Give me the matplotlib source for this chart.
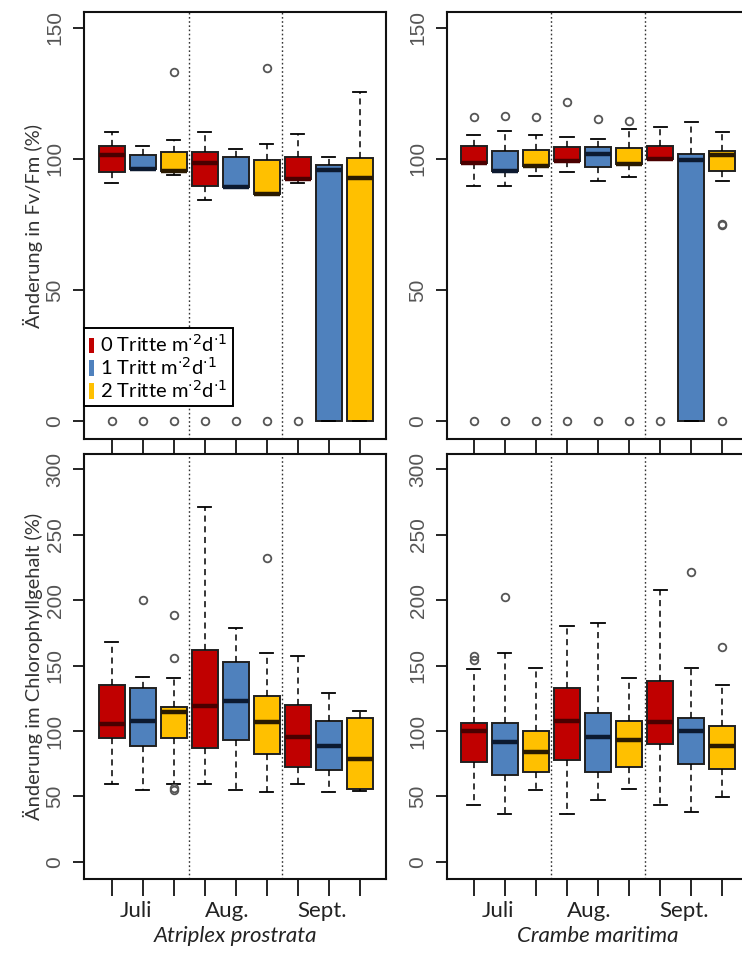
import matplotlib
matplotlib.use("Agg")
import matplotlib.pyplot as plt
from matplotlib.patches import Patch

plt.rcParams['font.family'] = ['Lato', 'DejaVu Sans']

# group colours: 0, 1, 2 Tritte
colors = ["#C00000", "#4F81BD", "#FFC000"]
med_colors = ["#4a0000", "#0c1a30", "#2a1a00"]
months = ["Juli", "Aug.", "Sept."]
species = ["Atriplex prostrata", "Crambe maritima"]
legend_labels = [r"0 Tritte m$^{\cdot 2}$d$^{\cdot 1}$",
                 r"1 Tritt m$^{\cdot 2}$d$^{\cdot 1}$",
                 r"2 Tritte m$^{\cdot 2}$d$^{\cdot 1}$"]

# Fv/Fm, Atriplex prostrata (9 boxes: Juli 0/1/2, Aug 0/1/2, Sept 0/1/2)
fv_atr_whislo = [90.6, 96.0, 93.9, 84.4, 89.4, 86.6, 90.6, 0, 0]
fv_atr_q1 = [94.8, 96.0, 95.5, 89.8, 89.4, 86.6, 92.2, 0, 0]
fv_atr_med = [101.4, 96.0, 95.5, 98.3, 89.4, 86.6, 92.2, 95.8, 92.5]
fv_atr_q3 = [104.7, 101.4, 102.5, 102.7, 100.8, 99.4, 100.8, 97.5, 100.4]
fv_atr_whishi = [110.2, 105.0, 107.0, 110.2, 103.8, 105.6, 109.5, 100.8, 125.4]
fv_atr_fliers = [[0], [0], [0, 133], [0], [0], [0, 134.6], [0], [], []]

# Fv/Fm, Crambe maritima
fv_cra_whislo = [89.7, 89.7, 93.5, 95.1, 91.6, 92.9, 99.8, 0, 91.6]
fv_cra_q1 = [98.5, 95.3, 97.3, 99.1, 96.7, 98.0, 99.8, 0, 95.5]
fv_cra_med = [98.5, 95.3, 97.3, 99.1, 101.8, 98.0, 99.8, 99.4, 101.3]
fv_cra_q3 = [105.0, 103.0, 103.5, 104.4, 104.4, 104.2, 105.0, 101.8, 102.9]
fv_cra_whishi = [108.9, 110.7, 108.9, 108.2, 107.5, 111.4, 112.0, 113.9, 110.2]
fv_cra_fliers = [[0, 116], [0, 116.5], [0, 116], [0, 121.5], [0, 115.2],
                 [0, 114.5], [0], [], [0, 74.7, 75.3]]

# Chlorophyll, Atriplex prostrata
ch_atr_whislo = [59.8, 55.2, 59.8, 59.8, 55.2, 53.4, 59.8, 53.4, 54.4]
ch_atr_q1 = [94.8, 88.7, 94.8, 87.0, 93.3, 82.4, 72.2, 69.9, 55.9]
ch_atr_med = [105.3, 107.8, 114.2, 119.2, 123.0, 106.5, 95.3, 88.7, 78.6]
ch_atr_q3 = [135.3, 132.7, 118.7, 162.0, 153.0, 126.4, 120.0, 107.3, 110.3]
ch_atr_whishi = [168.3, 141.6, 140.3, 270.8, 178.5, 159.4, 156.9, 128.9, 114.9]
ch_atr_fliers = [[], [200], [188.7, 155.6, 56.5, 55.2], [], [], [232.4], [], [], []]

# Chlorophyll, Crambe maritima
ch_cra_whislo = [43.2, 36.6, 55.2, 36.6, 47.0, 55.7, 43.2, 37.9, 49.3]
ch_cra_q1 = [76.0, 66.1, 68.6, 78.1, 68.6, 72.5, 90.0, 74.8, 70.9]
ch_cra_med = [100.2, 91.3, 83.7, 107.8, 95.3, 92.8, 106.5, 100.2, 88.7]
ch_cra_q3 = [106.0, 106.0, 99.7, 132.7, 113.7, 107.3, 137.8, 110.3, 104.0]
ch_cra_whishi = [147.2, 159.4, 148.0, 179.8, 182.3, 140.3, 207.7, 148.0, 135.3]
ch_cra_fliers = [[156.9, 154.3], [202.1], [], [], [], [], [], [221.7], [164.5]]

W, H = 742, 955
fig = plt.figure(figsize=(W / 100, H / 100), dpi=100)


def px_axes(left, right, top, bottom):
    return fig.add_axes([left / W, 1 - bottom / H, (right - left) / W, (bottom - top) / H])


def draw_panel(ax, whislo, q1, med, q3, whishi, fliers, ylim, yticks, xlim):
    stats = []
    for i in range(len(med)):
        stats.append(dict(med=med[i], q1=q1[i], q3=q3[i], whislo=whislo[i],
                          whishi=whishi[i], fliers=fliers[i]))
    pos = list(range(1, len(med) + 1))
    res = ax.bxp(stats, positions=pos, widths=0.82, patch_artist=True,
                 capwidths=0.42,
                 whiskerprops=dict(color="black", linestyle=(0, (4, 3)), linewidth=1.1),
                 capprops=dict(color="black", linewidth=1.3),
                 flierprops=dict(marker="o", markerfacecolor="none",
                                 markeredgecolor="#555555", markersize=5.5,
                                 markeredgewidth=1.3),
                 medianprops=dict(linewidth=3.2, solid_capstyle="butt"),
                 boxprops=dict(linewidth=1.4, edgecolor="#202020"))
    for i, b in enumerate(res["boxes"]):
        b.set_facecolor(colors[i % 3])
    for i, m in enumerate(res["medians"]):
        m.set_color(med_colors[i % 3])
    for xv in (3.5, 6.5):
        ax.axvline(xv, color="#333333", linestyle=(0, (1.2, 1.8)), linewidth=1.0, zorder=0)
    ax.set_xlim(*xlim)
    ax.set_ylim(*ylim)
    ax.set_yticks(yticks)
    ax.set_yticklabels([str(t) for t in yticks], rotation=90, va="center",
                       color="#555555", fontsize=15, family="Liberation Sans")
    ax.set_xticks(pos)
    ax.set_xticklabels([])
    ax.tick_params(axis="y", length=8, width=1.2, pad=6)
    ax.tick_params(axis="x", length=12, width=1.2)
    for s in ax.spines.values():
        s.set_linewidth(1.5)
        s.set_color("#111111")


xl_left = (0.1, 9.84)
xl_right = (0.13, 9.87)

ax1 = px_axes(84, 386, 12, 439)
draw_panel(ax1, fv_atr_whislo, fv_atr_q1, fv_atr_med, fv_atr_q3, fv_atr_whishi,
           fv_atr_fliers, (-6.9, 156), [0, 50, 100, 150], xl_left)
ax2 = px_axes(447, 749, 12, 439)
draw_panel(ax2, fv_cra_whislo, fv_cra_q1, fv_cra_med, fv_cra_q3, fv_cra_whishi,
           fv_cra_fliers, (-6.9, 156), [0, 50, 100, 150], xl_right)
ax3 = px_axes(84, 386, 454, 879)
draw_panel(ax3, ch_atr_whislo, ch_atr_q1, ch_atr_med, ch_atr_q3, ch_atr_whishi,
           ch_atr_fliers, (-13, 311.5), [0, 50, 100, 150, 200, 250, 300], xl_left)
ax4 = px_axes(447, 749, 454, 879)
draw_panel(ax4, ch_cra_whislo, ch_cra_q1, ch_cra_med, ch_cra_q3, ch_cra_whishi,
           ch_cra_fliers, (-13, 311.5), [0, 50, 100, 150, 200, 250, 300], xl_right)

ax1.set_ylabel("Änderung in Fv/Fm (%)", fontsize=14.5, color="#333333", labelpad=2)
ax3.set_ylabel("Änderung im Chlorophyllgehalt (%)", fontsize=14.5, color="#333333", labelpad=2)

month_pos = [1.78, 4.72, 7.77]
for ax, sp in ((ax3, species[0]), (ax4, species[1])):
    for mx, mname in zip(month_pos, months):
        ax.text(mx, -0.075, mname, transform=ax.get_xaxis_transform(),
                ha="center", va="center", fontsize=16, color="#222222")
    ax.text(5, -0.135, sp, transform=ax.get_xaxis_transform(), ha="center",
            va="center", fontsize=16, style="italic", color="#222222")

handles = [Patch(facecolor=c, edgecolor="none") for c in colors]
leg = ax1.legend(handles, legend_labels, loc="lower left", bbox_to_anchor=(0, 0.077),
                 borderaxespad=0, fancybox=False, framealpha=1, edgecolor="black",
                 fontsize=14.5, handlelength=0.25, handleheight=0.8, handletextpad=0.3,
                 labelspacing=0.05, borderpad=0.25)
leg.get_frame().set_linewidth(1.4)

fig.savefig("out.png", dpi=100)
